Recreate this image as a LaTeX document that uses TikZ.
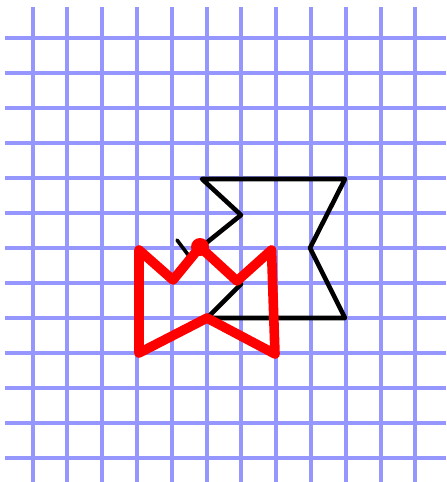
\documentclass[tikz,border=0pt]{standalone}
\usepackage{xcolor}
\usepackage{tikz}
\definecolor{gridblue}{RGB}{150,150,255}

\begin{document}
\begin{tikzpicture}[x=0.5pt,y=-0.5pt]
    \tikzset{
      gridline/.style={draw=gridblue, line width=2pt},
      blackpen/.style={draw=black, line width=2.3pt, line join=round, line cap=round},
      redpen/.style={draw=red, line width=4.8pt, line join=round, line cap=round}
    }
    \useasboundingbox (0,0) rectangle (446,482);
    \begin{scope}
      \clip (5,7) rectangle (446,482);
      \foreach \i in {0,...,11} {
        \draw[gridline] (32.5+34.8*\i,7) -- (32.5+34.8*\i,482);
      }
      \foreach \j in {0,...,12} {
        \draw[gridline] (5,38.3+35*\j) -- (446,38.3+35*\j);
      }
    \end{scope}

    % black figure
    \coordinate (b1) at (202,179);
    \coordinate (b2) at (345,179);
    \coordinate (b3) at (310,248);
    \coordinate (b4) at (345,318);
    \coordinate (b5) at (207,318);
    \coordinate (b6) at (241,284);
    \coordinate (b7) at (200,248);
    \coordinate (b8) at (241,215);
    \draw[blackpen] (b1) -- (b2) -- (b3) -- (b4) -- (b5) -- (b6) -- (b7) -- (b8) -- cycle;
    \coordinate (t1) at (177,240);
    \coordinate (t2) at (189,256);
    \draw[blackpen, line width=1.8pt] (t1) -- (t2);

    % red figure
    \coordinate (r1) at (139,250);
    \coordinate (r2) at (173,280);
    \coordinate (r3) at (200,247);
    \coordinate (r4) at (237,281);
    \coordinate (r5) at (271.5,250);
    \coordinate (r6) at (275,354);
    \coordinate (r7) at (207,318);
    \coordinate (r8) at (139,353);
    \draw[redpen] (r1) -- (r2) -- (r3) -- (r4) -- (r5) -- (r6) -- (r7) -- (r8) -- cycle;
    \fill[red] (r3) circle[radius=9];
  \end{tikzpicture}
\end{document}
